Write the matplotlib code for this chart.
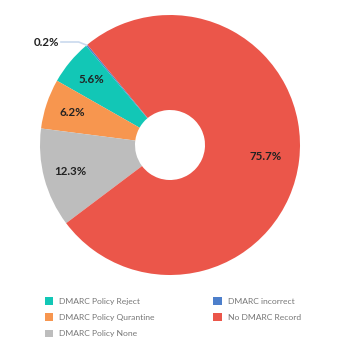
import numpy as np
import matplotlib.pyplot as plt
from matplotlib.patches import Patch

# legend order
names = ['DMARC Policy Reject', 'DMARC Policy Qurantine', 'DMARC Policy None',
         'DMARC incorrect', 'No DMARC Record']
values = [5.6, 6.2, 12.3, 0.2, 75.7]
colors = ['#12c7b6', '#f7964f', '#bdbdbd', '#4d7fcb', '#eb564a']

# drawing order around the ring (counter-clockwise)
order = [3, 0, 1, 2, 4]

plt.rcParams['font.family'] = ['Lato', 'DejaVu Sans']

fig = plt.figure(figsize=(3.4, 3.44), dpi=100)
ax = fig.add_axes([0, 0, 1, 1])

cx, cy, R = 170, 344 - 145, 130
vals = [values[i] for i in order]
cols = [colors[i] for i in order]
wedges, _ = ax.pie(vals, colors=cols, startangle=129.5, counterclock=True,
                   center=(cx, cy), radius=R, frame=True,
                   wedgeprops=dict(width=R - 35, linewidth=0))
ax.set_xlim(0, 340)
ax.set_ylim(0, 344)
ax.axis('off')

for w, i in zip(wedges, order):
    mid = np.deg2rad((w.theta1 + w.theta2) / 2)
    if values[i] < 1:
        # small slice: outside label with connector
        ex, ey = cx + R * np.cos(mid), cy + R * np.sin(mid)
        tx, ty = 60, 344 - 42
        ax.plot([ex, ex - 8, tx + 1], [ey, ty, ty], color='#c9d9ee', lw=1.2)
        ax.text(tx - 1, ty, f'{values[i]}%', ha='right', va='center',
                fontsize=8.3, fontweight='bold', color='#222222')
        continue
    r = 0.74 * R if values[i] > 50 else 0.79 * R
    ax.text(cx + r * np.cos(mid), cy + r * np.sin(mid), f'{values[i]}%',
            ha='center', va='center', fontsize=8.3, fontweight='bold',
            color='#222222')

handles = [Patch(facecolor=c, edgecolor='none') for c in colors]
leg = fig.legend(handles, names, loc='upper left', bbox_to_anchor=(0.11, 0.158),
                 ncol=2, frameon=False, fontsize=6.1, labelcolor='#777777',
                 handlelength=1.0, handleheight=1.0, handletextpad=0.7,
                 columnspacing=6.9, labelspacing=1.0)

fig.savefig('out.png', dpi=100)
